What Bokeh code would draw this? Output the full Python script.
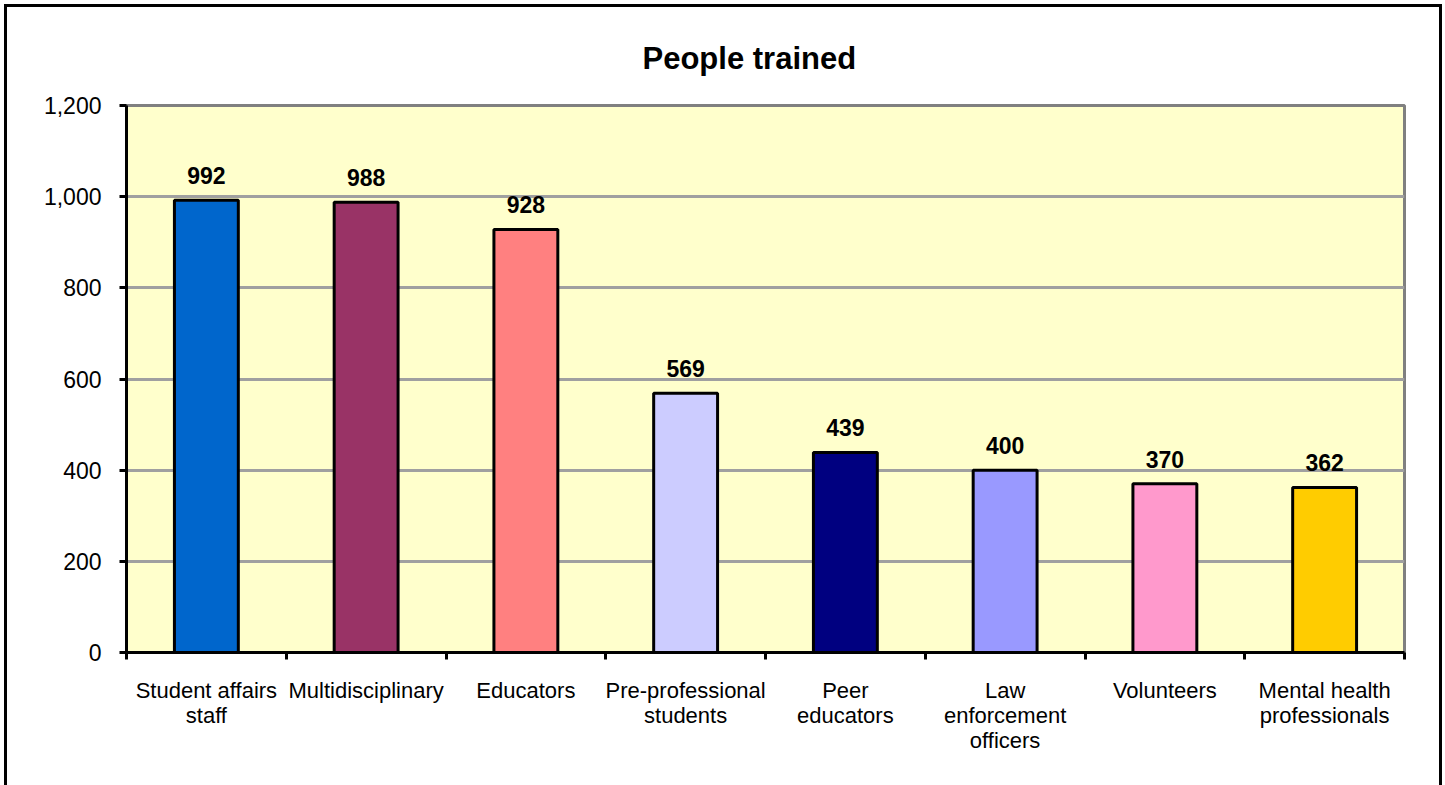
from bokeh.plotting import figure
from bokeh.models import ColumnDataSource, FixedTicker, NumeralTickFormatter, Range1d, LabelSet, Title
from bokeh.core.properties import value
from bokeh.embed import file_html
from bokeh.resources import INLINE

title_text = "People trained"
categories = ["Student affairs\nstaff", "Multidisciplinary", "Educators", "Pre-professional\nstudents",
              "Peer\neducators", "Law\nenforcement\nofficers", "Volunteers", "Mental health\nprofessionals"]
values = [992, 988, 928, 569, 439, 400, 370, 362]
colors = ["#0066CC", "#993366", "#FF8080", "#CCCCFF", "#000080", "#9999FF", "#FF99CC", "#FFCC00"]
y_ticks = [0, 200, 400, 600, 800, 1000, 1200]

n = len(categories)
xs = [i + 0.5 for i in range(n)]
src = ColumnDataSource(dict(x=xs, top=values, color=colors, label=[str(v) for v in values]))

FONT = "Liberation Sans"

p = figure(width=1432, height=790, output_backend="svg", toolbar_location=None,
           x_range=Range1d(0, n), y_range=Range1d(0, 1200),
           min_border_left=119, min_border_right=35, min_border_top=98, min_border_bottom=145)
p.margin = (7, 0, 0, 7)
p.styles = {"outline": "3px solid black", "outline-offset": "0px"}

p.title = Title(text=title_text, align="left", vertical_align="top", text_font=FONT,
                text_font_size="31px", text_font_style="bold", text_color="black",
                offset=516, standoff=56)

p.background_fill_color = "#FFFFCC"
p.border_fill_color = "white"
p.outline_line_color = "#808080"
p.outline_line_width = 3

p.vbar(x="x", top="top", width=0.4, bottom=0, fill_color="color", line_color="black",
       line_width=3, source=src)

labels = LabelSet(x="x", y="top", text="label", source=src, text_align="center",
                  text_baseline="bottom", y_offset=16, text_font=value(FONT),
                  text_font_size=value("23px"), text_font_style=value("bold"), text_color=value("black"))
p.add_layout(labels)

# y axis
p.yaxis.ticker = FixedTicker(ticks=y_ticks)
p.yaxis.formatter = NumeralTickFormatter(format="0,0")
p.yaxis.axis_line_color = "black"
p.yaxis.axis_line_width = 3
p.yaxis.major_tick_line_color = "black"
p.yaxis.major_tick_line_width = 3
p.yaxis.major_tick_out = 7
p.yaxis.major_tick_in = 0
p.yaxis.minor_tick_line_color = None
p.yaxis.major_label_text_font = FONT
p.yaxis.major_label_text_font_size = "23px"
p.yaxis.major_label_text_color = "black"
p.yaxis.major_label_standoff = 18

# x axis
p.xaxis.ticker = FixedTicker(ticks=xs, minor_ticks=list(range(n + 1)))
p.xaxis.major_label_overrides = {x: c for x, c in zip(xs, categories)}
p.xaxis.axis_line_color = "black"
p.xaxis.axis_line_width = 3
p.xaxis.major_tick_line_color = None
p.xaxis.major_tick_out = 0
p.xaxis.major_tick_in = 0
p.xaxis.minor_tick_line_color = "black"
p.xaxis.minor_tick_line_width = 3
p.xaxis.minor_tick_out = 7
p.xaxis.minor_tick_in = 0
p.xaxis.major_label_text_font = FONT
p.xaxis.major_label_text_font_size = "22px"
p.xaxis.major_label_text_color = "black"
p.xaxis.major_label_text_line_height = 1.0
p.xaxis.major_label_standoff = 18

p.xgrid.grid_line_color = None
p.ygrid.ticker = FixedTicker(ticks=y_ticks)
p.ygrid.grid_line_color = "#A0A0A0"
p.ygrid.grid_line_width = 3

open("out.html", "w").write(file_html(p, INLINE))
